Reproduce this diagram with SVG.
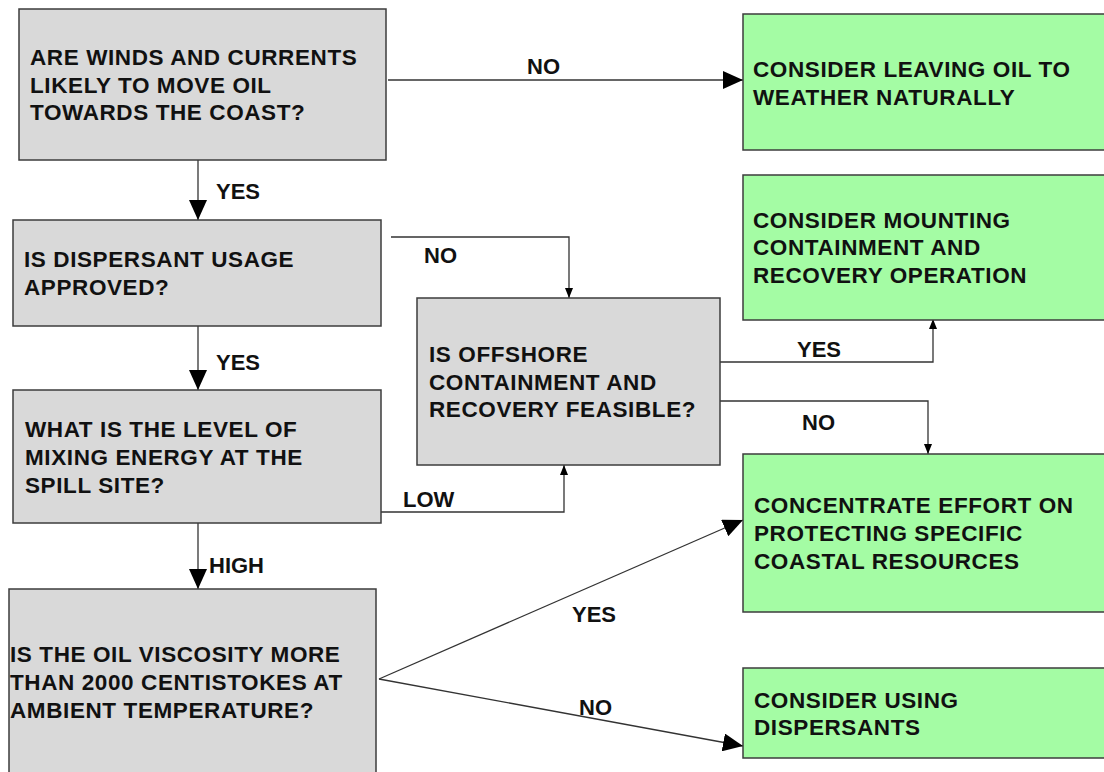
<svg xmlns="http://www.w3.org/2000/svg" width="1104" height="772" viewBox="0 0 1104 772">
<defs>
<style>
.q{fill:#d9d9d9;stroke:#3c3c3c;stroke-width:1.5}
.a{fill:#a4fca4;stroke:#3c3c3c;stroke-width:1.5}
.t{font-family:"Liberation Sans",Arial,sans-serif;font-weight:bold;font-size:22.5px;fill:#111;letter-spacing:0.6px}
.l{font-family:"Liberation Sans",Arial,sans-serif;font-weight:bold;font-size:22px;fill:#111}
.c{fill:none;stroke:#333;stroke-width:1.3}
</style>
<marker id="big" markerUnits="userSpaceOnUse" markerWidth="20" markerHeight="18" refX="20" refY="9" orient="auto"><path d="M0,0 L20,9 L0,18 z" fill="#000"/></marker>
<marker id="sm" markerUnits="userSpaceOnUse" markerWidth="10" markerHeight="8" refX="10" refY="4" orient="auto"><path d="M0,0 L10,4 L0,8 z" fill="#000"/></marker>
</defs>
<rect width="1104" height="772" fill="#fff"/>
<g id="connectors">
<path class="c" d="M388,80 H743" marker-end="url(#big)"/>
<path class="c" d="M198,160 V220" marker-end="url(#big)"/>
<path class="c" d="M198,326 V390" marker-end="url(#big)"/>
<path class="c" d="M198,523 V589" marker-end="url(#big)"/>
<path class="c" d="M391,237 H569 V298" marker-end="url(#sm)"/>
<path class="c" d="M381,512 H564 V465" marker-end="url(#sm)"/>
<path class="c" d="M720,362 H933 V319" marker-end="url(#sm)"/>
<path class="c" d="M720,401 H928 V454" marker-end="url(#sm)"/>
<path class="c" d="M379,679 L743,520" marker-end="url(#big)"/>
<path class="c" d="M379,679 L743,746" marker-end="url(#big)"/>
<text class="l" x="527" y="74">NO</text>
<text class="l" x="216" y="199">YES</text>
<text class="l" x="216" y="370">YES</text>
<text class="l" x="209" y="573">HIGH</text>
<text class="l" x="424" y="263">NO</text>
<text class="l" x="403" y="507">LOW</text>
<text class="l" x="797" y="357">YES</text>
<text class="l" x="802" y="430">NO</text>
<text class="l" x="572" y="622">YES</text>
<text class="l" x="579" y="715">NO</text>
</g>
<g id="n1">
<rect class="q" x="19" y="9" width="367" height="151"/>
<text class="t" x="30" y="65"><tspan x="30">ARE WINDS AND CURRENTS</tspan><tspan x="30" dy="27.5">LIKELY TO MOVE OIL</tspan><tspan x="30" dy="27.5">TOWARDS THE COAST?</tspan></text>
</g>
<g id="n2">
<rect class="q" x="13" y="220" width="368" height="106"/>
<text class="t" x="24" y="267"><tspan x="24">IS DISPERSANT USAGE</tspan><tspan x="24" dy="28">APPROVED?</tspan></text>
</g>
<g id="n3">
<rect class="q" x="13" y="390" width="368" height="133"/>
<text class="t" x="25" y="437"><tspan x="25">WHAT IS THE LEVEL OF</tspan><tspan x="25" dy="28">MIXING ENERGY AT THE</tspan><tspan x="25" dy="28">SPILL SITE?</tspan></text>
</g>
<g id="n4">
<rect class="q" x="9" y="589" width="367" height="200"/>
<text class="t" x="10" y="662"><tspan x="10">IS THE OIL VISCOSITY MORE</tspan><tspan x="10" dy="28">THAN 2000 CENTISTOKES AT</tspan><tspan x="10" dy="28">AMBIENT TEMPERATURE?</tspan></text>
</g>
<g id="n5">
<rect class="q" x="417" y="298" width="303" height="167"/>
<text class="t" x="429" y="362"><tspan x="429">IS OFFSHORE</tspan><tspan x="429" dy="27.5">CONTAINMENT AND</tspan><tspan x="429" dy="27.5">RECOVERY FEASIBLE?</tspan></text>
</g>
<g id="n6">
<rect class="a" x="743" y="14" width="370" height="136"/>
<text class="t" x="753" y="77"><tspan x="753">CONSIDER LEAVING OIL TO</tspan><tspan x="753" dy="27.7">WEATHER NATURALLY</tspan></text>
</g>
<g id="n7">
<rect class="a" x="743" y="175" width="370" height="145"/>
<text class="t" x="753" y="227.5"><tspan x="753">CONSIDER MOUNTING</tspan><tspan x="753" dy="27.5">CONTAINMENT AND</tspan><tspan x="753" dy="27.5">RECOVERY OPERATION</tspan></text>
</g>
<g id="n8">
<rect class="a" x="743" y="454" width="370" height="158"/>
<text class="t" x="754" y="512.5"><tspan x="754">CONCENTRATE EFFORT ON</tspan><tspan x="754" dy="28">PROTECTING SPECIFIC</tspan><tspan x="754" dy="28">COASTAL RESOURCES</tspan></text>
</g>
<g id="n9">
<rect class="a" x="743" y="668" width="370" height="90"/>
<text class="t" x="754" y="707.5"><tspan x="754">CONSIDER USING</tspan><tspan x="754" dy="27.5">DISPERSANTS</tspan></text>
</g>
</svg>
